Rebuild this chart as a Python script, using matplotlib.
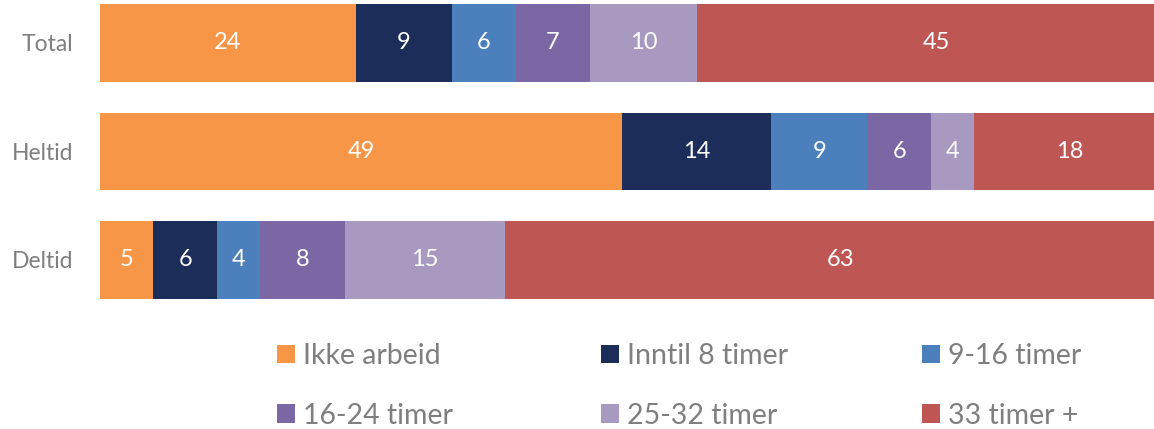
import matplotlib
matplotlib.use("Agg")
import matplotlib.pyplot as plt
import numpy as np

categories = ["Total", "Heltid", "Deltid"]
series = ["Ikke arbeid", "Inntil 8 timer", "9-16 timer", "16-24 timer", "25-32 timer", "33 timer +"]
ikke_arbeid = [24, 49, 5]
inntil_8 = [9, 14, 6]
t9_16 = [6, 9, 4]
t16_24 = [7, 6, 8]
t25_32 = [10, 4, 15]
t33_plus = [45, 18, 63]
values = [ikke_arbeid, inntil_8, t9_16, t16_24, t25_32, t33_plus]
colors = ["#F79646", "#1D2D5A", "#4C80BC", "#7B67A4", "#A899C1", "#BE5654"]

plt.rcParams['font.family'] = ['Lato', 'DejaVu Sans']
grey = "#7F7F7F"

W, H = 1154, 429
fig = plt.figure(figsize=(W / 100, H / 100), dpi=100)
# axes: left at px 100, right at px 1154, top at px 0, bottom at px 300
ax = fig.add_axes([100 / W, 1 - 300 / H, 1 - 100 / W, 300 / H])

y = np.arange(len(categories))
left = np.zeros(len(categories))
handles = []
for name, vals, c in zip(series, values, colors):
    vals = np.array(vals, dtype=float)
    bars = ax.barh(y, vals, left=left, height=0.71, color=c, label=name)
    for yi, l, v in zip(y, left, vals):
        ax.text(l + v / 2, yi, f"{int(v)}", ha='center', va='center',
                color='white', fontsize=17, clip_on=False)
    handles.append(bars)
    left += vals

ax.set_xlim(0, 98.9)
ax.set_ylim(2 + 40 / 108.5, -43 / 108.5)
ax.set_yticks(y)
ax.set_yticklabels(categories, fontsize=16.5, color=grey)
ax.tick_params(axis='y', length=0, pad=19)
ax.set_xticks([])
for s in ax.spines.values():
    s.set_visible(False)

col_x = [277, 601, 922]
for i, cx in enumerate(col_x):
    hs = [handles[i], handles[i + 3]]
    labs = [series[i], series[i + 3]]
    leg = fig.legend(hs, labs, loc='upper left',
                     bbox_to_anchor=(cx / W, 1 - 343 / H),
                     bbox_transform=fig.transFigure,
                     frameon=False, fontsize=20.5, borderpad=0, borderaxespad=0,
                     handlelength=0.63, handleheight=0.63, handletextpad=0.3,
                     labelspacing=1.18)
    for t in leg.get_texts():
        t.set_color(grey)

fig.savefig("out.png", dpi=100)
